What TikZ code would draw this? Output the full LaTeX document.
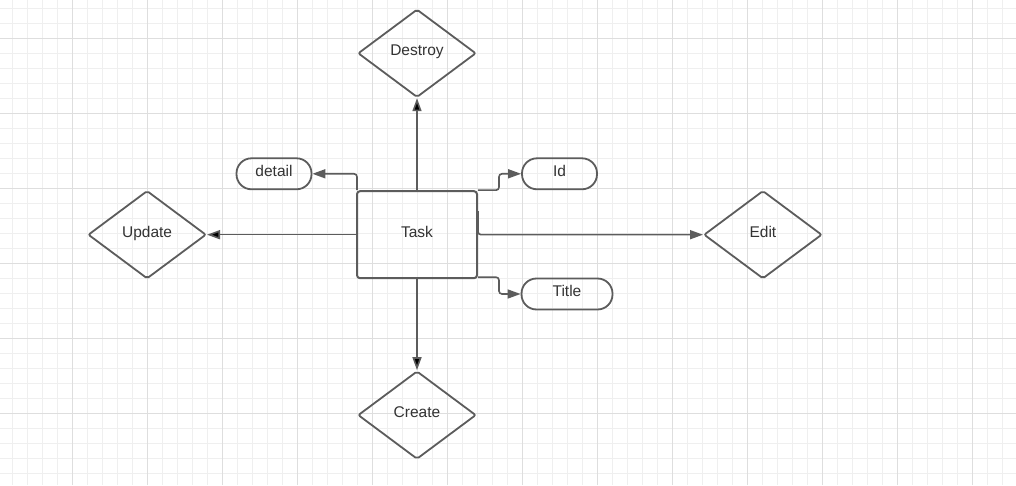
\documentclass[tikz,border=0pt]{standalone}
\usepackage{fontspec}
\setmainfont{Liberation Sans}
\usepackage{xcolor}
\usepackage{tikz}
\usetikzlibrary{positioning}
\usetikzlibrary{shapes.geometric}
\usetikzlibrary{arrows.meta}
\definecolor{gridminor}{RGB}{239,239,239}
\definecolor{gridmajor}{RGB}{222,222,222}
\definecolor{linegray}{RGB}{92,92,92}
\definecolor{textgray}{RGB}{51,51,51}

\begin{document}
\begin{tikzpicture}[x=1pt,y=1pt,node distance=90pt,
	every node/.style={inner sep=2,font=\fontsize{15.5}{18}\selectfont,text=textgray,text height=10pt,text depth=5pt},
	entity/.style={draw=linegray,line width=2pt,rounded corners=3pt,minimum width=120pt,minimum height=87pt},
	action/.style={diamond,aspect=1.3,draw=linegray,line width=1.8pt,rounded corners=2pt,minimum width=118pt,minimum height=88pt},
	attr/.style={draw=linegray,line width=1.8pt,rounded corners=15pt,minimum height=31pt},
	link/.style={draw=linegray,line width=1.6pt,rounded corners=3pt,-{Triangle[length=13pt,width=9pt]}}]
	% background grid
	\useasboundingbox[fill=white] (0,0) rectangle (1016,485);
	\foreach \x in {12.3,27.3,...,1016}
		\draw[gridminor,line width=1pt] (\x,0) -- (\x,485);
	\foreach \y in {476.7,461.7,...,0}
		\draw[gridminor,line width=1pt] (0,\y) -- (1016,\y);
	\foreach \x in {72.3,147.3,...,1016}
		\draw[gridmajor,line width=1pt] (\x,0) -- (\x,485);
	\foreach \y in {446.7,371.7,...,0}
		\draw[gridmajor,line width=1pt] (0,\y) -- (1016,\y);
	% entity and actions
	\node (task) [entity] at (417,250.3) {Task};
	\node (destroy) [action,above=92pt of task] {Destroy};
	\node (create) [action,below=91pt of task] {Create};
	\node (update) [action,left=149pt of task] {Update};
	\node (edit) [action,right=225pt of task] {Edit};
	% attributes
	\node (detail) [attr,minimum width=75pt] at (274,311.2) {detail};
	\node (id) [attr,minimum width=75pt] at (559.5,311.2) {Id};
	\node (title) [attr,minimum width=91pt] at (567,191) {Title};
	\path[link]
		(task) edge (destroy)
		(task) edge (create)
		(task) edge (update);
	\draw[link] ([yshift=-21pt]task.north east) |- (edit.west);
	\draw[link] ([xshift=1pt]task.north west) |- (detail.east);
	\draw[link] (task.north east) -- ++(21,0) |- (id.west);
	\draw[link] ([yshift=2pt]task.south east) -- ++(21,0) |- (title.west);
\end{tikzpicture}
\end{document}
